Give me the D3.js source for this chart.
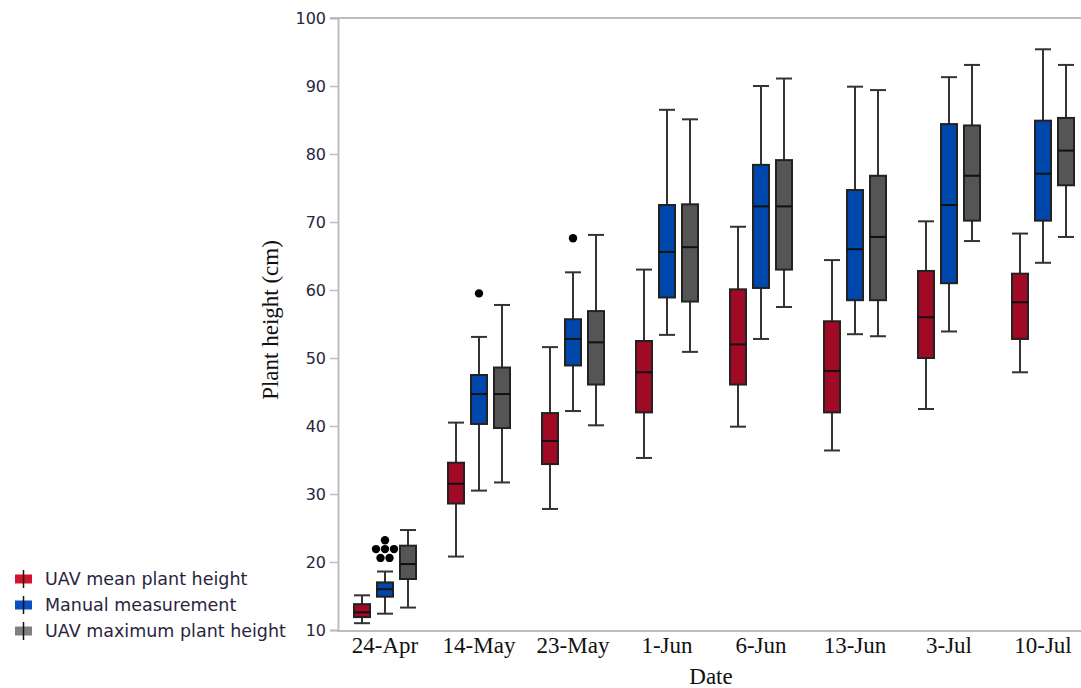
<!DOCTYPE html>
<html>
<head>
<meta charset="utf-8">
<script src="https://cdn.jsdelivr.net/npm/d3@7"></script>
<style>
  html, body { margin: 0; padding: 0; background: #fff; }
  svg { display: block; }
</style>
</head>
<body>
<svg id="chart" width="1081" height="688"></svg>
<script>
// ---- data ----
const dates = ["24-Apr", "14-May", "23-May", "1-Jun", "6-Jun", "13-Jun", "3-Jul", "10-Jul"];
const seriesNames = ["UAV mean plant height", "Manual measurement", "UAV maximum plant height"];
const yTicks = [10, 20, 30, 40, 50, 60, 70, 80, 90, 100];

// five-number summaries per date: [lower whisker, Q1, median, Q3, upper whisker]
const uavMean = [
  [11.0, 11.9, 12.6, 13.8, 15.1],
  [20.8, 28.6, 31.5, 34.6, 40.5],
  [27.8, 34.4, 37.8, 41.9, 51.6],
  [35.3, 42.0, 47.9, 52.5, 63.0],
  [39.9, 46.1, 52.0, 60.1, 69.3],
  [36.4, 42.0, 48.1, 55.4, 64.4],
  [42.5, 50.0, 56.0, 62.8, 70.1],
  [47.9, 52.8, 58.2, 62.4, 68.3]
];
const manual = [
  [12.4, 14.9, 16.0, 17.0, 18.6],
  [30.5, 40.3, 44.7, 47.5, 53.1],
  [42.2, 48.9, 52.8, 55.7, 62.6],
  [53.4, 58.9, 65.6, 72.5, 86.5],
  [52.8, 60.3, 72.3, 78.4, 90.0],
  [53.5, 58.5, 66.0, 74.7, 89.9],
  [53.9, 61.0, 72.5, 84.4, 91.3],
  [64.0, 70.2, 77.1, 84.9, 95.4]
];
const uavMax = [
  [13.3, 17.5, 19.7, 22.4, 24.7],
  [31.7, 39.7, 44.7, 48.6, 57.8],
  [40.1, 46.1, 52.3, 56.9, 68.1],
  [50.9, 58.3, 66.3, 72.6, 85.1],
  [57.5, 63.0, 72.3, 79.1, 91.1],
  [53.2, 58.5, 67.8, 76.8, 89.4],
  [67.2, 70.2, 76.8, 84.2, 93.1],
  [67.8, 75.4, 80.5, 85.3, 93.1]
];
// outliers of the manual measurement
const manualOutliers = [
  [23.2, 21.9, 21.9, 21.9, 20.6, 20.6],
  [59.5],
  [67.6],
  [], [], [], [], []
];

const boxColors = ["#a10a24", "#0047ab", "#555555"];
const legendColors = ["#d3132d", "#0a4fbf", "#808080"];

// ---- layout ----
const svg = d3.select("#chart");
const plotLeft = 338, plotRight = 1090, plotTop = 18, plotBottom = 630;

const x = d3.scaleBand().domain(dates).range([plotLeft, plotRight]).padding(0);
const inner = d3.scaleBand().domain(seriesNames).range([0, 69]);
const y = d3.scaleLinear().domain([10, 100]).range([plotBottom, plotTop]);

const allSeries = [uavMean, manual, uavMax];
const boxW = 16, capW = 16;

// top border line
svg.append("line")
  .attr("x1", 330).attr("x2", 1081)
  .attr("y1", y(100)).attr("y2", y(100))
  .attr("stroke", "#bdbdbd").attr("stroke-width", 2);

// y axis
const yAxis = d3.axisLeft(y).tickValues(yTicks).tickSize(8).tickPadding(4).tickFormat(d3.format("d"));
const yg = svg.append("g").attr("transform", `translate(${plotLeft},0)`).call(yAxis);
yg.select(".domain").attr("stroke", "#bdbdbd").attr("stroke-width", 2);
yg.selectAll(".tick line").attr("stroke", "#bdbdbd").attr("stroke-width", 1.5);
yg.selectAll(".tick text")
  .attr("font-family", "DejaVu Sans, Verdana, sans-serif")
  .attr("font-size", 16).attr("fill", "#2a2440");

// x axis
const xAxis = d3.axisBottom(x).tickSize(0).tickPadding(5);
const xg = svg.append("g").attr("transform", `translate(0,${plotBottom + 1})`).call(xAxis);
xg.select(".domain").attr("stroke", "#bdbdbd").attr("stroke-width", 2)
  .attr("d", `M${plotLeft - 1},0H1081`);
xg.selectAll(".tick text")
  .attr("font-family", "Liberation Serif, Times New Roman, serif")
  .attr("font-size", 23).attr("fill", "#111").attr("dy", "0.72em");

// axis titles
svg.append("text")
  .attr("x", (plotLeft + plotRight) / 2 - 3).attr("y", 684)
  .attr("text-anchor", "middle")
  .attr("font-family", "Liberation Serif, Times New Roman, serif")
  .attr("font-size", 23).attr("fill", "#111")
  .text("Date");
svg.append("text")
  .attr("transform", `translate(278,${y(55) - 4}) rotate(-90)`)
  .attr("text-anchor", "middle")
  .attr("font-family", "Liberation Serif, Times New Roman, serif")
  .attr("font-size", 23).attr("fill", "#111")
  .text("Plant height (cm)");

// boxes
allSeries.forEach((series, si) => {
  const g = svg.append("g");
  series.forEach((s, di) => {
    const cx = x(dates[di]) + (x.bandwidth() - inner.range()[1]) / 2 + inner(seriesNames[si]) + inner.bandwidth() / 2;
    const [lo, q1, med, q3, hi] = s;
    g.append("line").attr("x1", cx).attr("x2", cx).attr("y1", y(hi)).attr("y2", y(lo))
      .attr("stroke", "#333").attr("stroke-width", 2);
    [lo, hi].forEach(v => {
      g.append("line").attr("x1", cx - capW / 2).attr("x2", cx + capW / 2)
        .attr("y1", y(v)).attr("y2", y(v))
        .attr("stroke", "#333").attr("stroke-width", 2);
    });
    g.append("rect")
      .attr("x", cx - boxW / 2).attr("y", y(q3))
      .attr("width", boxW).attr("height", y(q1) - y(q3))
      .attr("fill", boxColors[si]).attr("stroke", "#222").attr("stroke-width", 2);
    g.append("line").attr("x1", cx - boxW / 2).attr("x2", cx + boxW / 2)
      .attr("y1", y(med)).attr("y2", y(med))
      .attr("stroke", "#111").attr("stroke-width", 2);
  });
});

// outliers of manual series
manualOutliers.forEach((vals, di) => {
  const cx = x(dates[di]) + (x.bandwidth() - inner.range()[1]) / 2 + inner(seriesNames[1]) + inner.bandwidth() / 2;
  const groups = d3.groups(vals, v => v);
  groups.forEach(([v, arr]) => {
    arr.forEach((_, i) => {
      svg.append("circle")
        .attr("cx", cx + (i - (arr.length - 1) / 2) * 9)
        .attr("cy", y(v)).attr("r", 4.2).attr("fill", "#000");
    });
  });
});

// legend
const legend = svg.append("g");
seriesNames.forEach((name, i) => {
  const cy = 579 + i * 26;
  legend.append("rect").attr("x", 15).attr("y", cy - 4.5).attr("width", 17).attr("height", 9)
    .attr("fill", legendColors[i]);
  legend.append("line").attr("x1", 23.5).attr("x2", 23.5).attr("y1", cy - 9).attr("y2", cy + 9)
    .attr("stroke", "#111").attr("stroke-width", 1.5);
  legend.append("text").attr("x", 45).attr("y", cy).attr("dy", "0.35em")
    .attr("font-family", "DejaVu Sans, Verdana, sans-serif")
    .attr("font-size", 17.5).attr("fill", "#2a2440")
    .text(name);
});
</script>
</body>
</html>
